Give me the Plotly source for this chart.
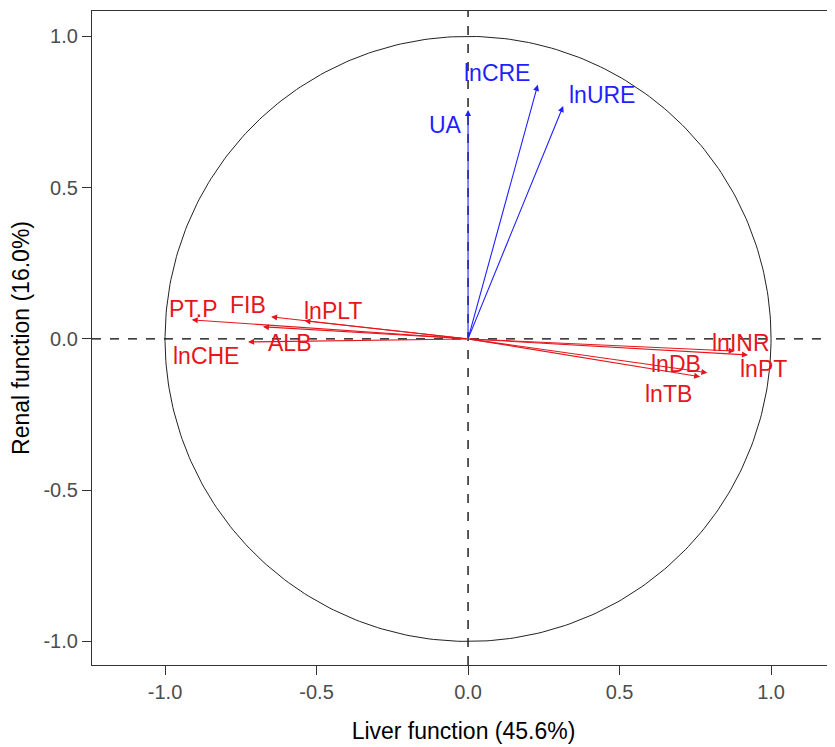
import numpy as np
import plotly.graph_objects as go

# Variable loadings (Dim1 = liver function, Dim2 = renal function)
liver_vars = ["PT.P", "FIB", "lnPLT", "ALB", "lnCHE", "lnINR", "lnPT", "lnDB", "lnTB"]
liver_x = [-0.912, -0.650, -0.540, -0.677, -0.726, 0.880, 0.924, 0.790, 0.766]
liver_y = [0.063, 0.073, 0.060, 0.040, -0.010, -0.040, -0.053, -0.112, -0.125]
liver_lx = [-0.905, -0.725, -0.445, -0.590, -0.865, 0.900, 0.975, 0.685, 0.660]
liver_ly = [0.098, 0.112, 0.092, -0.013, -0.058, -0.013, -0.100, -0.082, -0.182]

renal_vars = ["UA", "lnCRE", "lnURE"]
renal_x = [0.0, 0.230, 0.314]
renal_y = [0.757, 0.840, 0.770]
renal_lx = [-0.075, 0.097, 0.442]
renal_ly = [0.706, 0.878, 0.806]

x_title = "Liver function (45.6%)"
y_title = "Renal function (16.0%)"
tick_vals = [-1.0, -0.5, 0.0, 0.5, 1.0]
tick_text = ["-1.0", "-0.5", "0.0", "0.5", "1.0"]

RED = "#e8141c"
BLUE = "#1f1fff"
FONT = "Liberation Sans, Arial"

fig = go.Figure()

# correlation circle
t = np.linspace(0, 2 * np.pi, 400)
fig.add_trace(go.Scatter(x=np.cos(t), y=np.sin(t), mode="lines",
                         line=dict(color="#222222", width=1), hoverinfo="skip", showlegend=False))

annotations = []
for names, xs, ys, lxs, lys, col in [
    (liver_vars, liver_x, liver_y, liver_lx, liver_ly, RED),
    (renal_vars, renal_x, renal_y, renal_lx, renal_ly, BLUE),
]:
    for n, x, y, lx, ly in zip(names, xs, ys, lxs, lys):
        annotations.append(dict(x=x, y=y, ax=0, ay=0, xref="x", yref="y", axref="x", ayref="y",
                                text="", showarrow=True, arrowhead=2, arrowsize=1.1,
                                arrowwidth=1.1, arrowcolor=col))
        annotations.append(dict(x=lx, y=ly, xref="x", yref="y", text=n, showarrow=False,
                                font=dict(family=FONT, size=23, color=col)))

fig.update_layout(
    width=827, height=739,
    margin=dict(l=84, r=0, t=3, b=82),
    plot_bgcolor="white", paper_bgcolor="white",
    annotations=annotations,
    shapes=[
        dict(type="line", xref="x", yref="paper", x0=0, x1=0, y0=0, y1=1,
             line=dict(color="black", width=1.3, dash="dash"), layer="below"),
        dict(type="line", xref="paper", yref="y", x0=0, x1=1, y0=0, y1=0,
             line=dict(color="black", width=1.3, dash="dash"), layer="below"),
    ],
    xaxis=dict(range=[-1.241, 1.211], tickvals=tick_vals, ticktext=tick_text,
               showgrid=False, zeroline=False, showline=True, linecolor="#333333", linewidth=1.3,
               mirror=True, ticks="outside", ticklen=9, tickcolor="#333333",
               tickfont=dict(family=FONT, size=20, color="#4d4d4d"),
               title=dict(text=x_title, standoff=20,
                          font=dict(family=FONT, size=23, color="black"))),
    yaxis=dict(range=[-1.078, 1.084], tickvals=tick_vals, ticktext=tick_text,
               showgrid=False, zeroline=False, showline=True, linecolor="#333333", linewidth=1.3,
               ticks="outside", ticklen=9, tickcolor="#333333",
               tickfont=dict(family=FONT, size=20, color="#4d4d4d"),
               title=dict(text=y_title, standoff=8,
                          font=dict(family=FONT, size=23, color="black"))),
)

fig.write_html("out.html")
